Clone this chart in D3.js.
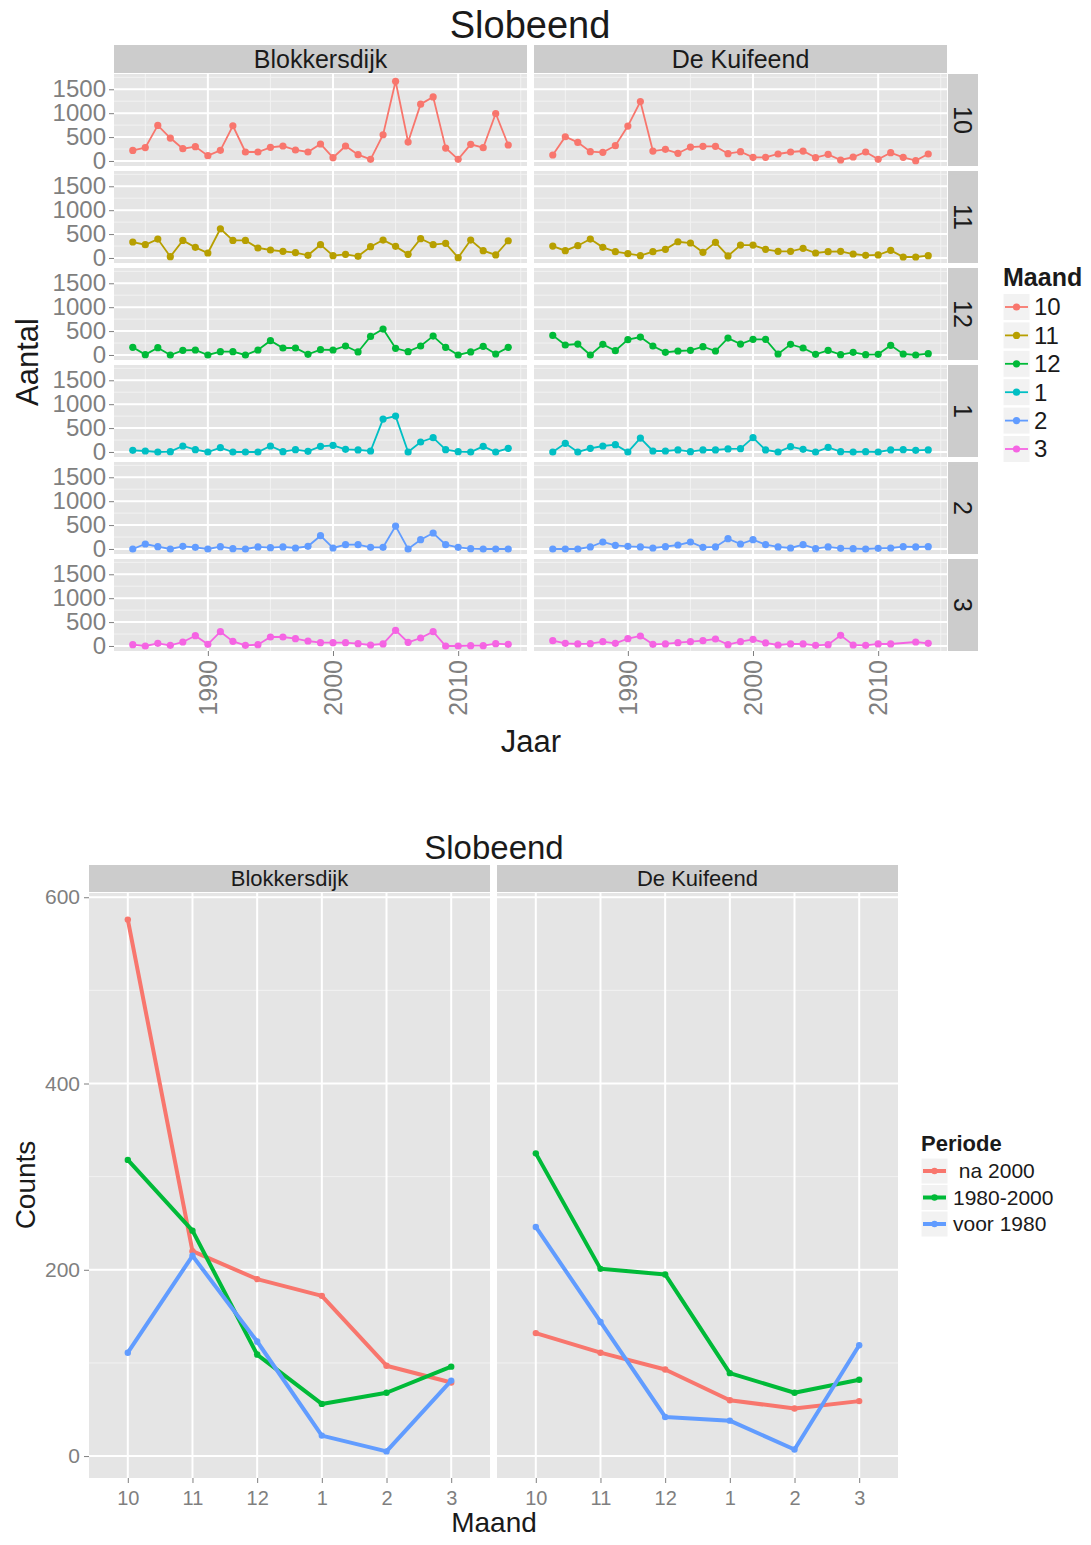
<!DOCTYPE html>
<html><head><meta charset="utf-8">
<script src="https://cdn.jsdelivr.net/npm/d3@7"></script>
<style>
body{margin:0;background:#fff}
svg{display:block;font-family:"Liberation Sans",Arial,sans-serif}
</style>
</head><body>
<svg id="c" width="1091" height="1545"></svg>
<script>
// ---------- data: monthly counts per year ----------
const years = [1984,1985,1986,1987,1988,1989,1990,1991,1992,1993,1994,1995,1996,1997,1998,1999,
               2000,2001,2002,2003,2004,2005,2006,2007,2008,2009,2010,2011,2012,2013,2014];
const months = ["10","11","12","1","2","3"];
const sites = ["Blokkersdijk","De Kuifeend"];

const blokkersdijk10 = [220,280,745,480,257,300,111,222,737,188,188,285,313,230,188,355,70,313,132,35,549,1668,396,1188,1341,271,35,348,278,994,334];
const blokkersdijk11 = [334,278,396,28,368,222,104,612,368,368,209,167,139,111,56,278,49,76,35,236,375,243,76,403,278,306,7,375,153,63,361];
const blokkersdijk12 = [160,7,153,0,97,104,0,70,70,0,104,299,146,146,14,111,104,188,63,389,542,139,70,188,396,160,0,63,181,21,160];
const blokkersdijk1  = [35,21,0,7,125,49,0,90,0,0,0,125,7,49,14,118,139,56,42,21,688,751,0,209,299,49,7,0,118,0,76];
const blokkersdijk2  = [0,104,49,0,56,35,0,49,7,0,42,28,42,21,56,278,21,90,90,35,35,480,0,195,334,90,35,7,0,0,0];
const blokkersdijk3  = [28,0,56,14,83,215,35,299,97,14,28,188,188,153,104,70,70,70,49,21,42,327,76,167,299,0,0,7,7,49,35];

const kuifeend10 = [125,507,389,195,181,320,730,1244,208,243,160,292,306,306,153,195,76,76,146,188,208,70,139,21,83,188,35,174,76,7,146];
const kuifeend11 = [250,153,257,396,222,132,90,49,132,181,340,313,118,327,42,271,271,181,139,139,202,104,132,139,83,56,63,160,21,21,49];
const kuifeend12 = [410,209,229,0,222,90,320,375,188,56,83,97,174,83,354,229,327,327,21,222,146,14,97,7,56,7,14,202,21,0,28];
const kuifeend1  = [0,181,0,76,125,153,0,292,21,21,42,7,42,42,63,70,299,42,0,111,56,0,97,7,0,7,0,42,49,35,42];
const kuifeend2  = [0,0,0,42,146,76,56,42,21,49,83,146,35,42,215,104,195,90,42,21,90,7,42,14,7,0,14,21,49,42,49];
const kuifeend3  = [111,56,42,49,90,56,153,209,35,42,70,90,111,146,28,90,139,63,21,42,42,14,28,222,21,14,42,42,null,83,56];

const yearTicks = [1990,2000,2010];
const yearMinor = [1985,1995,2005,2015];
const countTicksTop = [0,500,1000,1500];
const countMinorTop = [250,750,1250,1750];

// ---------- data: mean counts per month and period ----------
const periods = [" na 2000","1980-2000","voor 1980"];
const blokNa2000   = [576,220,190,172,97,79];
const blok1980s    = [318,242,109,56,68,96];
const blokVoor1980 = [111,215,123,22,5,81];
const kuifNa2000   = [132,111,93,60,51,59];
const kuif1980s    = [325,201,195,89,68,82];
const kuifVoor1980 = [246,144,42,38,7,119];
const countTicks = [0,200,400,600];
const countMinor = [100,300,500];

const monthColors = ["#F8766D","#B79F00","#00BA38","#00BFC4","#619CFF","#F564E3"];
const periodColors = ["#F8766D","#00BA38","#619CFF"];

const seriesTop = {
  "Blokkersdijk": [blokkersdijk10,blokkersdijk11,blokkersdijk12,blokkersdijk1,blokkersdijk2,blokkersdijk3],
  "De Kuifeend":  [kuifeend10,kuifeend11,kuifeend12,kuifeend1,kuifeend2,kuifeend3]
};
const seriesBottom = {
  "Blokkersdijk": [blokNa2000,blok1980s,blokVoor1980],
  "De Kuifeend":  [kuifNa2000,kuif1980s,kuifVoor1980]
};

// ---------- theme ----------
const PANEL_BG = "#E5E5E5", STRIP_BG = "#CCCCCC", MINOR = "#F2F2F2",
      TICK_TXT = "#7F7F7F", TICK = "#7F7F7F", TXT = "#1a1a1a";

const svg = d3.select("#c");

// =============== top figure: counts by year, faceted month x site ===============
{
  const colX = [114, 534], panelW = 413;
  const rowTop0 = 74, rowStep = 97, panelH = 92;
  const x = d3.scaleLinear().domain([1982.5, 2015.5]);
  const yFor = top => d3.scaleLinear().domain([-105, 1820]).range([top + panelH, top]);
  const g = svg.append("g");

  g.append("text").attr("x", 530).attr("y", 38).attr("text-anchor", "middle")
    .attr("font-size", 38).attr("fill", TXT).text("Slobeend");

  // column strips
  sites.forEach((s, c) => {
    g.append("rect").attr("x", colX[c]).attr("y", 45).attr("width", panelW).attr("height", 28).attr("fill", STRIP_BG);
    g.append("text").attr("x", colX[c] + panelW / 2).attr("y", 68).attr("text-anchor", "middle")
      .attr("font-size", 25).attr("fill", TXT).text(s);
  });

  months.forEach((m, r) => {
    const top = rowTop0 + r * rowStep;
    const y = yFor(top);
    // row strip
    g.append("rect").attr("x", 948).attr("y", top).attr("width", 30).attr("height", panelH).attr("fill", STRIP_BG);
    g.append("text").attr("transform", `translate(963,${top + panelH / 2}) rotate(90)`)
      .attr("text-anchor", "middle").attr("dy", "0.35em").attr("font-size", 25).attr("fill", TXT).text(m);

    // y axis
    const ya = g.append("g").attr("transform", `translate(${colX[0]},0)`)
      .call(d3.axisLeft(y).tickValues(countTicksTop).tickFormat(d3.format("d")).tickSize(5).tickPadding(3));
    ya.select(".domain").remove();
    ya.selectAll("line").attr("stroke", TICK);
    ya.selectAll("text").attr("font-size", 24).attr("fill", TICK_TXT).attr("font-family", null);

    sites.forEach((s, c) => {
      const xs = x.copy().range([colX[c], colX[c] + panelW]);
      const p = g.append("g");
      p.append("rect").attr("x", colX[c]).attr("y", top).attr("width", panelW).attr("height", panelH).attr("fill", PANEL_BG);
      p.selectAll(".ymin").data(countMinorTop).join("line")
        .attr("x1", colX[c]).attr("x2", colX[c] + panelW).attr("y1", d => y(d)).attr("y2", d => y(d))
        .attr("stroke", MINOR).attr("stroke-width", 1);
      p.selectAll(".xmin").data(yearMinor).join("line")
        .attr("x1", d => xs(d)).attr("x2", d => xs(d)).attr("y1", top).attr("y2", top + panelH)
        .attr("stroke", MINOR).attr("stroke-width", 1);
      p.selectAll(".ymaj").data(countTicksTop).join("line")
        .attr("x1", colX[c]).attr("x2", colX[c] + panelW).attr("y1", d => y(d)).attr("y2", d => y(d))
        .attr("stroke", "#fff").attr("stroke-width", 2);
      p.selectAll(".xmaj").data(yearTicks).join("line")
        .attr("x1", d => xs(d)).attr("x2", d => xs(d)).attr("y1", top).attr("y2", top + panelH)
        .attr("stroke", "#fff").attr("stroke-width", 2);

      const pts = years.map((yr, i) => ({yr, v: seriesTop[s][r][i]})).filter(d => d.v !== null);
      p.append("path").datum(pts)
        .attr("d", d3.line().x(d => xs(d.yr)).y(d => y(d.v)))
        .attr("fill", "none").attr("stroke", monthColors[r]).attr("stroke-width", 1.8);
      p.selectAll("circle").data(pts).join("circle")
        .attr("cx", d => xs(d.yr)).attr("cy", d => y(d.v)).attr("r", 3.6).attr("fill", monthColors[r]);

      // x axis under last row
      if (r === months.length - 1) {
        const xa = g.append("g").attr("transform", `translate(0,${top + panelH})`)
          .call(d3.axisBottom(xs).tickValues(yearTicks).tickFormat(d3.format("d")).tickSize(5).tickPadding(3));
        xa.select(".domain").remove();
        xa.selectAll("line").attr("stroke", TICK);
        xa.selectAll("text").attr("font-size", 25).attr("fill", TICK_TXT).attr("font-family", null)
          .attr("transform", "rotate(-90)").attr("text-anchor", "end")
          .attr("x", -9).attr("y", 0).attr("dy", "0.35em");
      }
    });
  });

  g.append("text").attr("transform", "translate(38,362) rotate(-90)").attr("text-anchor", "middle")
    .attr("font-size", 31).attr("fill", TXT).text("Aantal");
  g.append("text").attr("x", 531).attr("y", 752).attr("text-anchor", "middle")
    .attr("font-size", 31).attr("fill", TXT).text("Jaar");

  // legend
  g.append("text").attr("x", 1003).attr("y", 286).attr("font-size", 25).attr("font-weight", "bold")
    .attr("fill", TXT).text("Maand");
  months.forEach((m, i) => {
    const cy = 307 + i * 28.4;
    g.append("rect").attr("x", 1003).attr("y", cy - 13.5).attr("width", 27).attr("height", 27)
      .attr("fill", MINOR).attr("stroke", "#fff").attr("stroke-width", 1);
    g.append("line").attr("x1", 1005).attr("x2", 1028).attr("y1", cy).attr("y2", cy)
      .attr("stroke", monthColors[i]).attr("stroke-width", 1.8);
    g.append("circle").attr("cx", 1016.5).attr("cy", cy).attr("r", 3.6).attr("fill", monthColors[i]);
    g.append("text").attr("x", 1034).attr("y", cy).attr("dy", "0.35em").attr("font-size", 24)
      .attr("fill", TXT).text(m);
  });
}

// =============== bottom figure: mean counts per month, by period ===============
{
  const colX = [89, 497], panelW = 401, top = 893, panelH = 585;
  const g = svg.append("g");
  const allVals = sites.flatMap(s => seriesBottom[s].flat());
  const [lo, hi] = d3.extent(allVals);
  const pad = 0.05 * (hi - lo);
  const y = d3.scaleLinear().domain([lo - pad, hi + pad]).range([top + panelH, top]);

  g.append("text").attr("x", 494).attr("y", 859).attr("text-anchor", "middle")
    .attr("font-size", 33).attr("fill", TXT).text("Slobeend");

  const ya = g.append("g").attr("transform", `translate(${colX[0]},0)`)
    .call(d3.axisLeft(y).tickValues(countTicks).tickSize(5).tickPadding(4));
  ya.select(".domain").remove();
  ya.selectAll("line").attr("stroke", TICK);
  ya.selectAll("text").attr("font-size", 21).attr("fill", TICK_TXT).attr("font-family", null);

  sites.forEach((s, c) => {
    const xs = d3.scalePoint().domain(months).range([colX[c], colX[c] + panelW]).padding(0.6);
    g.append("rect").attr("x", colX[c]).attr("y", 865).attr("width", panelW).attr("height", 27).attr("fill", STRIP_BG);
    g.append("text").attr("x", colX[c] + panelW / 2).attr("y", 886).attr("text-anchor", "middle")
      .attr("font-size", 22).attr("fill", TXT).text(s);

    const p = g.append("g");
    p.append("rect").attr("x", colX[c]).attr("y", top).attr("width", panelW).attr("height", panelH).attr("fill", PANEL_BG);
    p.selectAll(".ymin").data(countMinor).join("line")
      .attr("x1", colX[c]).attr("x2", colX[c] + panelW).attr("y1", d => y(d)).attr("y2", d => y(d))
      .attr("stroke", MINOR).attr("stroke-width", 1);
    p.selectAll(".ymaj").data(countTicks).join("line")
      .attr("x1", colX[c]).attr("x2", colX[c] + panelW).attr("y1", d => y(d)).attr("y2", d => y(d))
      .attr("stroke", "#fff").attr("stroke-width", 2);
    p.selectAll(".xmaj").data(months).join("line")
      .attr("x1", d => xs(d)).attr("x2", d => xs(d)).attr("y1", top).attr("y2", top + panelH)
      .attr("stroke", "#fff").attr("stroke-width", 2);

    seriesBottom[s].forEach((vals, k) => {
      const pts = months.map((m, i) => ({m, v: vals[i]}));
      p.append("path").datum(pts)
        .attr("d", d3.line().x(d => xs(d.m)).y(d => y(d.v)))
        .attr("fill", "none").attr("stroke", periodColors[k]).attr("stroke-width", 4)
        .attr("stroke-linejoin", "round");
      p.selectAll(null).data(pts).join("circle")
        .attr("cx", d => xs(d.m)).attr("cy", d => y(d.v)).attr("r", 3.2).attr("fill", periodColors[k]);
    });

    const xa = g.append("g").attr("transform", `translate(0,${top + panelH})`)
      .call(d3.axisBottom(xs).tickSize(5).tickPadding(8));
    xa.select(".domain").remove();
    xa.selectAll("line").attr("stroke", TICK);
    xa.selectAll("text").attr("font-size", 20).attr("fill", TICK_TXT).attr("font-family", null);
  });

  g.append("text").attr("transform", "translate(35,1185) rotate(-90)").attr("text-anchor", "middle")
    .attr("font-size", 28).attr("fill", TXT).text("Counts");
  g.append("text").attr("x", 494).attr("y", 1532).attr("text-anchor", "middle")
    .attr("font-size", 28).attr("fill", TXT).text("Maand");

  g.append("text").attr("x", 921).attr("y", 1151).attr("font-size", 22).attr("font-weight", "bold")
    .attr("fill", TXT).text("Periode");
  periods.forEach((lab, i) => {
    const cy = 1171 + i * 26.5;
    g.append("rect").attr("x", 921).attr("y", cy - 13).attr("width", 27).attr("height", 26)
      .attr("fill", MINOR).attr("stroke", "#fff").attr("stroke-width", 1);
    g.append("line").attr("x1", 923).attr("x2", 946).attr("y1", cy).attr("y2", cy)
      .attr("stroke", periodColors[i]).attr("stroke-width", 4);
    g.append("circle").attr("cx", 934.5).attr("cy", cy).attr("r", 3.2).attr("fill", periodColors[i]);
    g.append("text").attr("x", 953).attr("y", cy).attr("dy", "0.35em").attr("font-size", 21)
      .attr("fill", TXT).attr("xml:space", "preserve").text(lab);
  });
}
</script>
</body></html>
